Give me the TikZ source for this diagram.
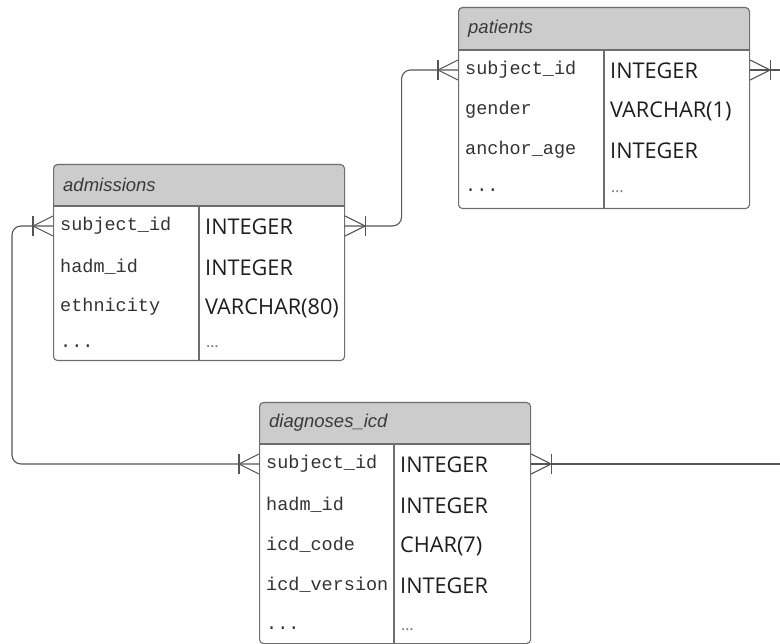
\documentclass[tikz,border=0pt]{standalone}
\usepackage{fontspec}
\usetikzlibrary{calc}
\setmainfont{Open Sans}
\newfontfamily\colfont{Liberation Mono}
\newfontfamily\titlefont{Liberation Sans}
\definecolor{hdrgray}{HTML}{CCCCCC}
\definecolor{rulegray}{HTML}{6E6E6E}
\definecolor{linegray}{HTML}{555555}
\definecolor{txt}{HTML}{1E1E1E}
\definecolor{monotxt}{HTML}{333333}
\definecolor{titletxt}{HTML}{3A3A3A}
\definecolor{moretxt}{HTML}{777777}
\tikzset{
  tableframe/.style={draw=rulegray, line width=1.1pt, rounded corners=4pt},
  hdrfill/.style={fill=hdrgray},
  ruleline/.style={draw=rulegray, line width=1.1pt},
  colname/.style={anchor=west, inner sep=0pt, text=monotxt,
    font=\colfont\fontsize{18.5}{20}\selectfont},
  coltype/.style={anchor=west, inner sep=0pt, text=txt,
    font=\fontsize{21.7}{24}\selectfont},
  moretype/.style={anchor=west, inner sep=0pt, text=moretxt,
    font=\fontsize{16}{18}\selectfont},
  tabletitle/.style={anchor=west, inner sep=0pt, text=titletxt,
    font=\titlefont\itshape\fontsize{18.5}{20}\selectfont},
  connline/.style={draw=linegray, line width=1.1pt},
  conn/.style={connline, rounded corners=9pt},
  manyone/.pic={
    \draw[connline] (0,-10) -- (-20,0) -- (0,10);
    \draw[connline] (-20,-10) -- (-20,10);
  }
}
% \ertable{name}{left}{top}{right}{header bottom}{divider x}{bottom}{title}
\newcommand\ertable[8]{%
  \fill[hdrfill, rounded corners=4pt] (#2,#3) rectangle (#4,#5);
  \fill[hdrfill] (#2,#5-6) rectangle (#4,#5);
  \draw[ruleline] (#2,#5) -- (#4,#5);
  \draw[ruleline] (#6,#5) -- (#6,#7);
  \node[tableframe, anchor=north west, minimum width=#4pt-#2pt,
        minimum height=#7pt-#3pt, inner sep=0pt] (#1) at (#2,#3) {};
  \node[tabletitle] (#1-title) at (#2+10,{(#3+#5)/2}) {#8};
}
\begin{document}
\begin{tikzpicture}[x=1pt,y=-1pt]
\useasboundingbox (0,0) rectangle (780,644);

% patients
\ertable{patients}{458}{7}{749}{50}{604}{208}{patients}
\node[colname] (p1) at (465,70) {subject\_id};
\node[colname] (p2) at (465,110) {gender};
\node[colname] (p3) at (465,150) {anchor\_age};
\node[colname] (p4) at (465,190) {...};
\node[coltype] (pt1) at (610,71) {INTEGER};
\node[coltype] (pt2) at (610,111) {VARCHAR(1)};
\node[coltype] (pt3) at (610,151) {INTEGER};
\node[moretype] (pt4) at (611,192) {…};

% admissions
\ertable{admissions}{53}{164}{344}{206}{199}{360}{admissions}
\node[colname] (a1) at (60,226) {subject\_id};
\node[colname] (a2) at (60,267) {hadm\_id};
\node[colname] (a3) at (60,307) {ethnicity};
\node[colname] (a4) at (60,346) {...};
\node[coltype] (at1) at (205,227) {INTEGER};
\node[coltype] (at2) at (205,268) {INTEGER};
\node[coltype] (at3) at (205,308) {VARCHAR(80)};
\node[moretype] (at4) at (206,347) {…};

% diagnoses_icd
\ertable{diagnoses}{259}{402}{530}{444}{394}{643}{diagnoses\_icd}
\node[colname] (d1) at (266,464) {subject\_id};
\node[colname] (d2) at (266,505) {hadm\_id};
\node[colname] (d3) at (266,545) {icd\_code};
\node[colname] (d4) at (266,585) {icd\_version};
\node[colname] (d5) at (266,628) {...};
\node[coltype] (dt1) at (400,465) {INTEGER};
\node[coltype] (dt2) at (400,506) {INTEGER};
\node[coltype] (dt3) at (400,546) {CHAR(7)};
\node[coltype] (dt4) at (400,586) {INTEGER};
\node[moretype] (dt5) at (401,630) {…};

% key row attachment points
\coordinate (p-l) at (patients.west |- p1);
\coordinate (p-r) at (patients.east |- p1);
\coordinate (a-l) at (admissions.west |- a1);
\coordinate (a-r) at (admissions.east |- a1);
\coordinate (d-l) at (diagnoses.west |- d1);
\coordinate (d-r) at (diagnoses.east |- d1);
\coordinate (p-out) at (780,0 |- p1);
\coordinate (d-out) at (780,0 |- d1);
\coordinate (a-bend) at (12,0 |- a1);

% relationships
\draw[conn] (a-r) -| ($(a-r)!0.5!(p-l)$) |- (p-l);
\draw[conn] (a-l) -- (a-bend) |- (d-l);
\draw[connline] (p-r) -- (p-out);
\draw[connline] (d-r) -- (d-out);

% crow's foot ends
\pic at (p-l) {manyone};
\pic[xscale=-1] at (p-r) {manyone};
\pic at (a-l) {manyone};
\pic[xscale=-1] at (a-r) {manyone};
\pic at (d-l) {manyone};
\pic[xscale=-1] at (d-r) {manyone};
\end{tikzpicture}
\end{document}
